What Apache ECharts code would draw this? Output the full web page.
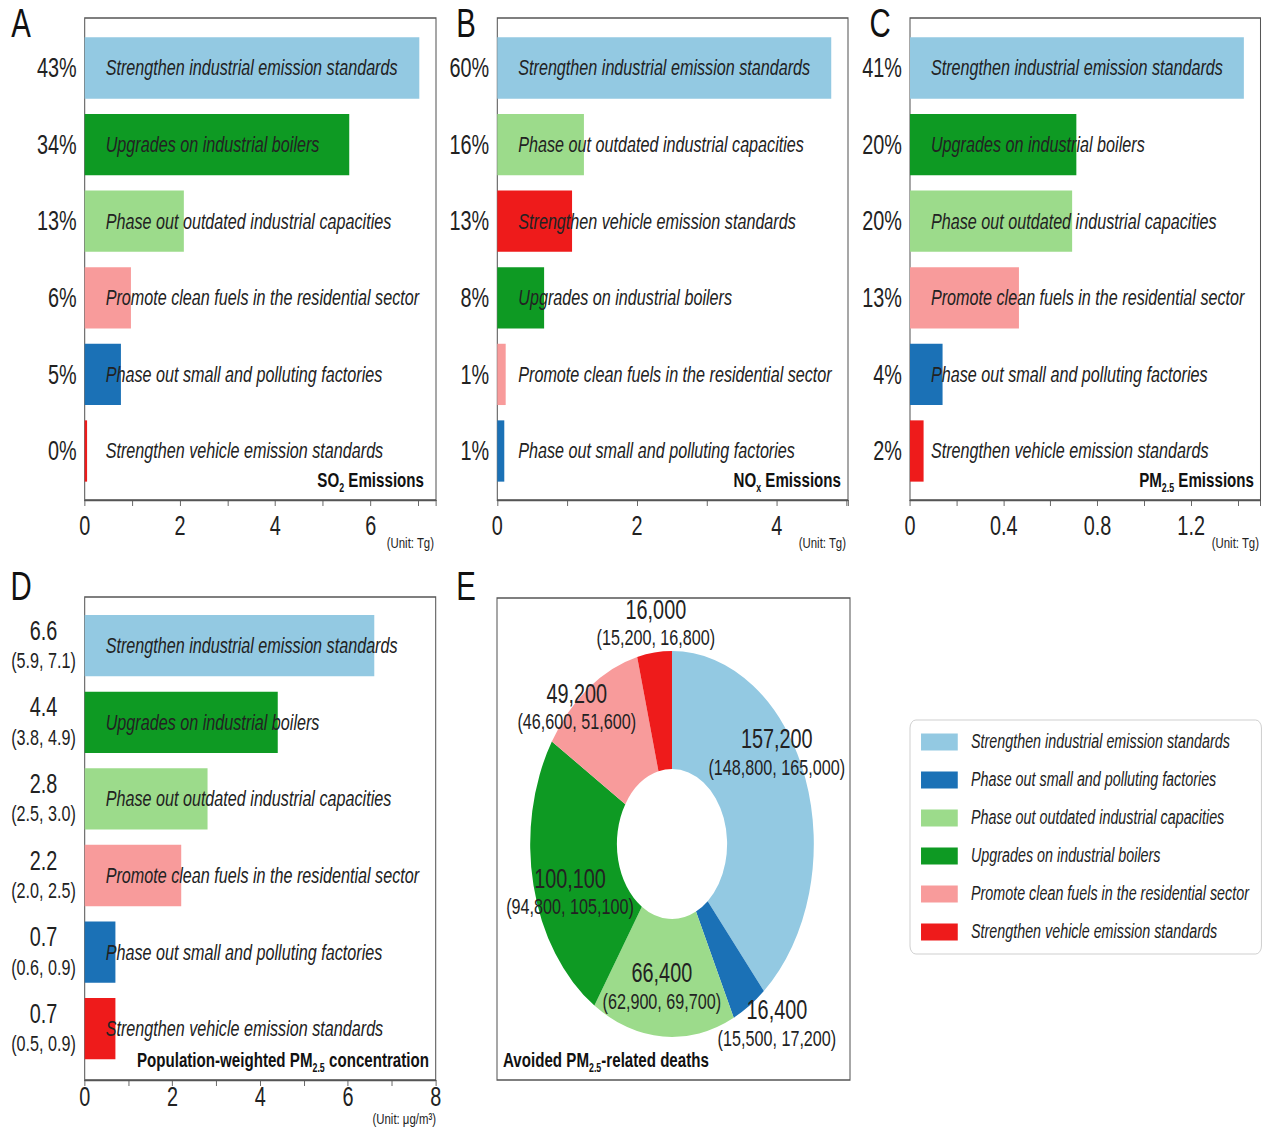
<!DOCTYPE html>
<html>
<head>
<meta charset="utf-8">
<script src="https://cdn.jsdelivr.net/npm/echarts@6/dist/echarts.min.js"></script>
<style>
  html, body { margin: 0; padding: 0; background: #fff; overflow: hidden; }
  #wrap { width: 1269px; height: 1130px; overflow: hidden; }
  /* the figure is laid out on a wider canvas and compressed horizontally */
  #chart { width: 1727px; height: 1130px; transform: scaleX(0.734801); transform-origin: 0 0; }
</style>
</head>
<body>
<div id="wrap"><div id="chart"></div></div>
<script>
// ---- measures (legend / donut order) ----
const MEASURES = [
  'Strengthen industrial emission standards',
  'Phase out small and polluting factories',
  'Phase out outdated industrial capacities',
  'Upgrades on industrial boilers',
  'Promote clean fuels in the residential sector',
  'Strengthen vehicle emission standards'
];

// ---- A: SO2 emission reductions (Tg) ----
const so2Measures = [
  'Strengthen industrial emission standards',
  'Upgrades on industrial boilers',
  'Phase out outdated industrial capacities',
  'Promote clean fuels in the residential sector',
  'Phase out small and polluting factories',
  'Strengthen vehicle emission standards'
];
const so2Values = [7.02, 5.55, 2.08, 0.97, 0.76, 0.05];
const so2Shares = ['43%', '34%', '13%', '6%', '5%', '0%'];
const so2AxisMax = 7.37;
const so2Ticks = [0, 2, 4, 6];

// ---- B: NOx emission reductions (Tg) ----
const noxMeasures = [
  'Strengthen industrial emission standards',
  'Phase out outdated industrial capacities',
  'Strengthen vehicle emission standards',
  'Upgrades on industrial boilers',
  'Promote clean fuels in the residential sector',
  'Phase out small and polluting factories'
];
const noxValues = [4.78, 1.24, 1.07, 0.67, 0.12, 0.10];
const noxShares = ['60%', '16%', '13%', '8%', '1%', '1%'];
const noxAxisMax = 5.02;
const noxTicks = [0, 2, 4];

// ---- C: PM2.5 emission reductions (Tg) ----
const pmMeasures = [
  'Strengthen industrial emission standards',
  'Upgrades on industrial boilers',
  'Phase out outdated industrial capacities',
  'Promote clean fuels in the residential sector',
  'Phase out small and polluting factories',
  'Strengthen vehicle emission standards'
];
const pmValues = [1.425, 0.71, 0.692, 0.465, 0.139, 0.058];
const pmShares = ['41%', '20%', '20%', '13%', '4%', '2%'];
const pmAxisMax = 1.496;
const pmTicks = [0, 0.4, 0.8, 1.2];

// ---- D: population-weighted PM2.5 concentration decrease (ug/m3) ----
const concMeasures = [
  'Strengthen industrial emission standards',
  'Upgrades on industrial boilers',
  'Phase out outdated industrial capacities',
  'Promote clean fuels in the residential sector',
  'Phase out small and polluting factories',
  'Strengthen vehicle emission standards'
];
const concValues = [6.6, 4.4, 2.8, 2.2, 0.7, 0.7];
const concLow = [5.9, 3.8, 2.5, 2.0, 0.6, 0.5];
const concHigh = [7.1, 4.9, 3.0, 2.5, 0.9, 0.9];
const concAxisMax = 8;
const concTicks = [0, 2, 4, 6, 8];

// ---- E: avoided PM2.5-related deaths ----
const deaths = [157200, 16400, 66400, 100100, 49200, 16000];
const deathsLow = [148800, 15500, 62900, 94800, 46600, 15200];
const deathsHigh = [165000, 17200, 69700, 105100, 51600, 16800];

// ---- styling ----
const COLORS = {
  'Strengthen industrial emission standards': '#93C9E2',
  'Phase out small and polluting factories': '#1B71B6',
  'Phase out outdated industrial capacities': '#9CDB8B',
  'Upgrades on industrial boilers': '#0E9A23',
  'Promote clean fuels in the residential sector': '#F89B9B',
  'Strengthen vehicle emission standards': '#EE1B1B'
};
const FONT = "'Liberation Sans', Arial, Helvetica, sans-serif";
const INK = '#222';
const FRAME = '#555';
const S = 1269 / 1727;          // horizontal compression of the figure
const X = v => v / S;           // page x -> canvas x
const BAND = 76.6;              // bar slot height

const fmtInt = n => n.toLocaleString('en-US');

// panel frames: left, right, frame top/bottom, top of the bar slots, tick label gap
const panels = [
  { l: 84.7,  r: 436,    ft: 18,  fb: 500,  dt: 29.7,  gap: 12.5, lh: 27 },
  { l: 497.3, r: 848,    ft: 18,  fb: 500,  dt: 29.7,  gap: 12.5, lh: 27 },
  { l: 910,   r: 1260.5, ft: 18,  fb: 500,  dt: 29.7,  gap: 12.5, lh: 27 },
  { l: 84.7,  r: 435.7,  ft: 597, fb: 1080, dt: 607.4, gap: 5,    lh: 24 }
];

const grids = [], xAxes = [], yAxes = [], series = [];

function tickFormatter(ticks) {
  return v => {
    const r = +v.toFixed(4);
    return ticks.some(t => Math.abs(t - r) < 1e-6) ? String(r) : '';
  };
}

function addBarPanel(p, cats, values, axisMax, interval, ticks, yLabel, name) {
  const fi = grids.length;
  grids.push({ left: X(p.l), width: X(p.r - p.l), top: p.ft, height: p.fb - p.ft,
    show: true, borderColor: FRAME, borderWidth: 1.4, backgroundColor: 'transparent',
    outerBoundsMode: 'none', containLabel: false });
  xAxes.push({ type: 'value', gridIndex: fi, min: 0, max: axisMax, interval: interval,
    axisLine: { show: true, onZero: false, lineStyle: { color: FRAME, width: 1.4 } },
    axisTick: { show: true, length: 6, lineStyle: { color: FRAME, width: 1.2 } },
    splitLine: { show: false },
    axisLabel: { formatter: tickFormatter(ticks), fontFamily: FONT, fontSize: 27, lineHeight: p.lh,
      color: INK, margin: p.gap, showMaxLabel: true } });
  yAxes.push({ type: 'value', gridIndex: fi, show: false, min: 0, max: 1 });

  const di = grids.length;
  grids.push({ left: X(p.l), width: X(p.r - p.l), top: p.dt, height: BAND * 6,
    outerBoundsMode: 'none', containLabel: false });
  xAxes.push({ type: 'value', gridIndex: di, min: 0, max: axisMax, show: false });
  yAxes.push(Object.assign({ type: 'category', gridIndex: di, inverse: true, data: cats,
    axisLine: { show: false }, axisTick: { show: false }, splitLine: { show: false } }, yLabel));

  series.push({
    type: 'bar', name: name, xAxisIndex: di, yAxisIndex: di,
    barCategoryGap: '20%', silent: true,
    data: values.map((v, i) => ({ value: v, itemStyle: { color: COLORS[cats[i]] } })),
    label: { show: true, position: [28.5, '50%'], align: 'left', verticalAlign: 'middle',
      formatter: prm => cats[prm.dataIndex],
      fontFamily: FONT, fontStyle: 'italic', fontSize: 22, color: INK }
  });
}

const shareLabel = shares => ({
  axisLabel: { formatter: (v, i) => shares[i], fontFamily: FONT, fontSize: 27, color: INK, margin: 11 }
});

addBarPanel(panels[0], so2Measures, so2Values, so2AxisMax, 1, so2Ticks, shareLabel(so2Shares), 'SO2');
addBarPanel(panels[1], noxMeasures, noxValues, noxAxisMax, 1, noxTicks, shareLabel(noxShares), 'NOx');
addBarPanel(panels[2], pmMeasures, pmValues, pmAxisMax, 0.2, pmTicks, shareLabel(pmShares), 'PM2.5');
addBarPanel(panels[3], concMeasures, concValues, concAxisMax, 1, concTicks, {
  axisLabel: {
    formatter: (v, i) => '{v|' + concValues[i].toFixed(1) + '}\n{ci|(' +
      concLow[i].toFixed(1) + ', ' + concHigh[i].toFixed(1) + ')}',
    margin: 10, align: 'right',
    rich: {
      v: { fontFamily: FONT, fontSize: 27, lineHeight: 30, width: 92, align: 'center', color: INK },
      ci: { fontFamily: FONT, fontSize: 22, lineHeight: 30, width: 92, align: 'center', color: INK }
    }
  }
}, 'Concentration');

// frame of the donut panel
const ei = grids.length;
grids.push({ left: X(497), width: X(850 - 497), top: 598, height: 1080 - 598,
  show: true, borderColor: FRAME, borderWidth: 1.4, backgroundColor: 'transparent',
  outerBoundsMode: 'none', containLabel: false });
xAxes.push({ type: 'value', gridIndex: ei, show: false });
yAxes.push({ type: 'value', gridIndex: ei, show: false });

// label placement around the donut (canvas px, relative to the inside anchor)
const donutLabelShift = [[14, -44], [68, 65], [-5, 6], [-5, 19], [-49, -26], [-5, -85]];

series.push({
  type: 'pie', name: 'Avoided deaths', silent: true,
  center: [X(672), 844], radius: [75, 193], startAngle: 90, clockwise: true,
  avoidLabelOverlap: false,
  itemStyle: { borderWidth: 0 },
  data: MEASURES.map((m, i) => ({ name: m, value: deaths[i], itemStyle: { color: COLORS[m] } })),
  label: {
    show: true, position: 'inside', color: INK,
    formatter: prm => '{v|' + fmtInt(deaths[prm.dataIndex]) + '}\n{ci|(' +
      fmtInt(deathsLow[prm.dataIndex]) + ', ' + fmtInt(deathsHigh[prm.dataIndex]) + ')}',
    rich: {
      v: { fontFamily: FONT, fontSize: 27, lineHeight: 29, color: INK },
      ci: { fontFamily: FONT, fontSize: 22, lineHeight: 27, color: INK }
    }
  },
  labelLine: { show: false },
  labelLayout: prm => ({ dx: donutLabelShift[prm.dataIndex][0], dy: donutLabelShift[prm.dataIndex][1] })
});

// ---- text annotations ----
const subRich = {
  sub: { fontFamily: FONT, fontWeight: 'bold', fontSize: 12, lineHeight: 12, verticalAlign: 'bottom', fill: '#111' }
};
function boldText(text, x, y, align) {
  return { type: 'text', x: x, y: y, silent: true, style: {
    text: text, align: align, verticalAlign: 'middle', fontFamily: FONT, fontWeight: 'bold',
    fontSize: 20.6, lineHeight: 26, fill: '#111', rich: subRich } };
}
function unitText(text, xr, y) {
  return { type: 'text', x: X(xr), y: y, silent: true, style: {
    text: text, align: 'right', verticalAlign: 'middle', fontFamily: FONT, fontSize: 15.5,
    lineHeight: 17, fill: INK } };
}
function letter(t, xc, yc) {
  return { type: 'text', x: X(xc), y: yc, silent: true, style: {
    text: t, align: 'center', verticalAlign: 'middle', fontFamily: FONT, fontSize: 40, fill: '#111' } };
}

const graphics = [
  letter('A', 21, 23), letter('B', 466, 23), letter('C', 880, 23),
  letter('D', 21, 586), letter('E', 466, 586),
  boldText('SO{sub|2} Emissions', X(424), 480, 'right'),
  boldText('NO{sub|x} Emissions', X(841), 480, 'right'),
  boldText('PM{sub|2.5} Emissions', X(1254), 480, 'right'),
  boldText('Population-weighted PM{sub|2.5} concentration', X(429), 1060, 'right'),
  boldText('Avoided PM{sub|2.5}-related deaths', X(503), 1060, 'left'),
  unitText('(Unit: Tg)', 434, 543),
  unitText('(Unit: Tg)', 846, 543),
  unitText('(Unit: Tg)', 1259, 543),
  unitText('(Unit: μg/m³)', 436, 1119)
];

const chart = echarts.init(document.getElementById('chart'), null, { renderer: 'svg', width: 1727, height: 1130 });
chart.setOption({
  animation: false,
  backgroundColor: '#fff',
  textStyle: { fontFamily: FONT },
  grid: grids,
  xAxis: xAxes,
  yAxis: yAxes,
  legend: {
    orient: 'vertical', left: X(910), top: 720,
    data: MEASURES, icon: 'rect', itemWidth: 50, itemHeight: 17, itemGap: 18,
    padding: [12, 17, 12, 15], backgroundColor: '#fff',
    borderColor: '#c8c8c8', borderWidth: 1, borderRadius: 8, selectedMode: false,
    textStyle: { fontFamily: FONT, fontStyle: 'italic', fontSize: 19.5, color: INK, lineHeight: 20,
      padding: [0, 0, 0, 13] }
  },
  series: series,
  graphic: graphics
});
</script>
</body>
</html>
